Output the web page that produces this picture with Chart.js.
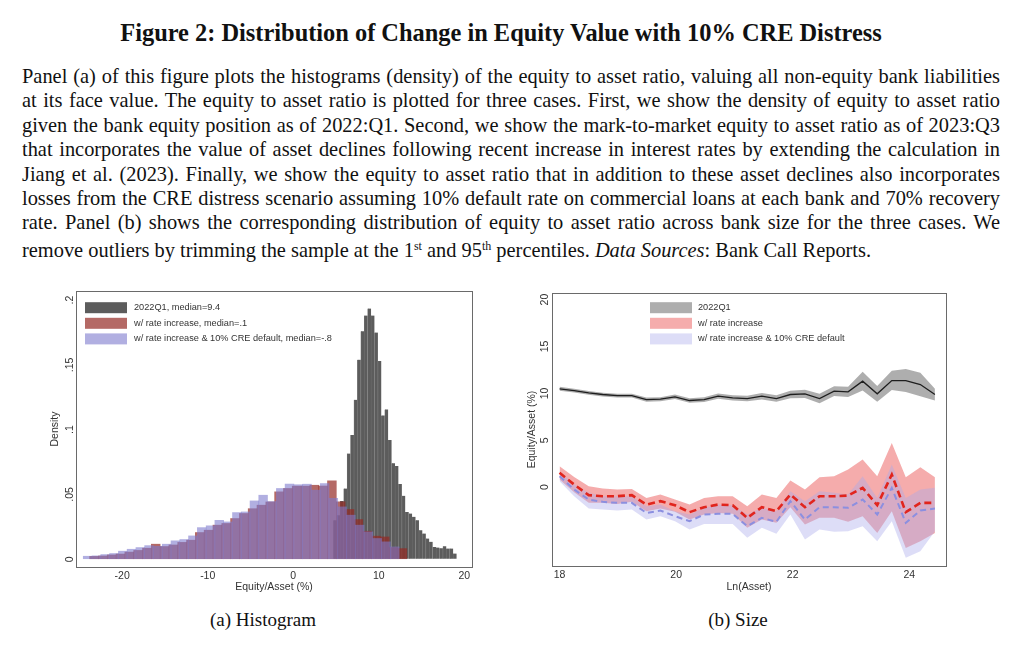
<!DOCTYPE html>
<html>
<head>
<meta charset="utf-8">
<script src="https://cdn.jsdelivr.net/npm/chart.js@4.4.0/dist/chart.umd.min.js"></script>
<style>
  body { margin: 0; background: #fff; width: 1024px; height: 667px; overflow: hidden; position: relative;
         font-family: "Liberation Serif", "Times New Roman", serif; color: #111; }
  .title { position: absolute; left: 0; width: 1002px; top: 19px; text-align: center;
           font-weight: bold; font-size: 24.4px; line-height: 28px; }
  .para { position: absolute; left: 22px; top: 64px; width: 978px; font-size: 20.4px; }
  .para div { height: 24.4px; line-height: 24.4px; white-space: nowrap; text-align: left; }
  .para.fit div { text-align: justify; text-align-last: justify; }
  .para.fit div.last { text-align-last: left; }
  .para div.last { margin-top: 3px; }
  sup { font-size: 12px; line-height: 0; vertical-align: 7px; }
  .cap { position: absolute; top: 608px; width: 240px; font-size: 19px; line-height: 24px; text-align: center; }
  .chart { position: absolute; top: 280px; }
</style>
</head>
<body>
<div class="title">Figure 2: Distribution of Change in Equity Value with 10% CRE Distress</div>
<div class="para" id="para">
  <div><span>Panel (a) of this figure plots the histograms (density) of the equity to asset ratio, valuing all non-equity bank liabilities</span></div>
  <div><span>at its face value. The equity to asset ratio is plotted for three cases. First, we show the density of equity to asset ratio</span></div>
  <div><span>given the bank equity position as of 2022:Q1. Second, we show the mark-to-market equity to asset ratio as of 2023:Q3</span></div>
  <div><span>that incorporates the value of asset declines following recent increase in interest rates by extending the calculation in</span></div>
  <div><span>Jiang et al. (2023). Finally, we show the equity to asset ratio that in addition to these asset declines also incorporates</span></div>
  <div><span>losses from the CRE distress scenario assuming 10% default rate on commercial loans at each bank and 70% recovery</span></div>
  <div><span>rate. Panel (b) shows the corresponding distribution of equity to asset ratio across bank size for the three cases. We</span></div>
  <div class="last"><span>remove outliers by trimming the sample at the 1<sup>st</sup> and 95<sup>th</sup> percentiles. <i>Data Sources</i>: Bank Call Reports.</span></div>
</div>
<canvas id="hist" class="chart" width="450" height="320" style="left:30px"></canvas>
<canvas id="size" class="chart" width="450" height="320" style="left:515px"></canvas>
<div class="cap" style="left:143px">(a) Histogram</div>
<div class="cap" style="left:618px">(b) Size</div>

<script>
// ---- panel (a): histograms, bin centers and densities ----
const grayCenters = [4.9, 5.3, 5.7, 6.1, 6.5, 6.9, 7.3, 7.7, 8.1, 8.5, 8.9, 9.3, 9.7, 10.1, 10.5, 10.9, 11.3, 11.7,
  12.1, 12.5, 12.9, 13.3, 13.7, 14.1, 14.5, 14.9, 15.3, 15.7, 16.1, 16.5, 16.9, 17.3, 17.7, 18.1, 18.5, 18.9];
const grayDensity = [0.030, 0.034, 0.045, 0.0546, 0.0816, 0.0958, 0.123, 0.154, 0.176, 0.188, 0.1935, 0.188, 0.175,
  0.153, 0.111, 0.1156, 0.092, 0.074, 0.072, 0.058, 0.049, 0.0365, 0.0353, 0.0327, 0.030, 0.0224, 0.0198, 0.016,
  0.0134, 0.0095, 0.009, 0.0085, 0.010, 0.0082, 0.0082, 0.0044];

const rateCenters = [-23.29, -22.26, -21.23, -20.20, -19.17, -18.14, -17.11, -16.08, -15.05, -14.02, -12.99, -11.96,
  -10.93, -9.90, -8.87, -7.84, -6.81, -5.78, -4.75, -3.72, -2.69, -1.66, -0.63, 0.40, 1.43, 2.46, 3.49, 4.52,
  5.55, 6.58, 7.61, 8.64, 9.67, 10.70, 11.73, 12.76];
const rateDensity = [0.0022, 0.0025, 0.0033, 0.004, 0.0055, 0.0068, 0.0085, 0.0116, 0.0098, 0.011, 0.013, 0.0147,
  0.0206, 0.0224, 0.0263, 0.0276, 0.0314, 0.0353, 0.039, 0.0417, 0.0442, 0.052, 0.0546, 0.0564, 0.0564, 0.0571,
  0.0565, 0.0605, 0.0443, 0.0384, 0.0306, 0.0216, 0.0178, 0.0172, 0.009, 0.0082];

const creCenters = [-24.04, -23.01, -21.99, -20.96, -19.93, -18.91, -17.88, -16.86, -15.83, -14.80, -13.78, -12.75,
  -11.73, -10.70, -9.67, -8.65, -7.62, -6.59, -5.57, -4.54, -3.52, -2.49, -1.46, -0.44, 0.59, 1.61, 2.64, 3.67,
  4.69, 5.72, 6.74, 7.77, 8.80, 9.82, 10.85, 11.87];
const creDensity = [0.0023, 0.0026, 0.0036, 0.0044, 0.0062, 0.0077, 0.009, 0.0105, 0.0100, 0.0116, 0.0142, 0.0152,
  0.018, 0.0244, 0.0258, 0.030, 0.0288, 0.036, 0.0365, 0.045, 0.0494, 0.0445, 0.0546, 0.058, 0.0575, 0.0579,
  0.0533, 0.0584, 0.047, 0.0404, 0.034, 0.0263, 0.0211, 0.016, 0.0134, 0.0095];

const histLabels = ['2022Q1, median=9.4', 'w/ rate increase, median=.1', 'w/ rate increase & 10% CRE default, median=-.8'];
const histXTicks = [-20, -10, 0, 10, 20];
const histYTicks = [0, 0.05, 0.1, 0.15, 0.2];

// ---- panel (b): equity/asset by bank size, mean and band ----
const lnAsset = [18.0, 18.25, 18.5, 18.74, 18.99, 19.24, 19.49, 19.73, 19.98, 20.23, 20.48, 20.72, 20.97, 21.22,
  21.47, 21.72, 21.96, 22.21, 22.46, 22.71, 22.95, 23.2, 23.45, 23.7, 23.94, 24.19, 24.44];
const mean2022 = [10.48, 10.30, 10.05, 9.88, 9.77, 9.77, 9.34, 9.38, 9.63, 9.24, 9.34, 9.70, 9.52, 9.45, 9.70, 9.45,
  9.88, 9.95, 9.45, 10.23, 10.16, 11.30, 9.95, 11.37, 11.37, 10.94, 9.88];
const high2022 = [10.70, 10.50, 10.25, 10.08, 9.97, 9.97, 9.56, 9.60, 9.87, 9.48, 9.60, 9.98, 9.80, 9.75, 10.05, 9.80,
  10.28, 10.40, 9.95, 10.75, 10.70, 12.30, 10.80, 12.40, 12.60, 12.20, 10.50];
const low2022 = [10.28, 10.10, 9.85, 9.68, 9.57, 9.57, 9.12, 9.16, 9.39, 9.00, 9.08, 9.42, 9.24, 9.15, 9.35, 9.10,
  9.48, 9.50, 8.95, 9.71, 9.62, 10.30, 9.10, 10.35, 10.15, 9.70, 9.25];
const meanRate = [1.53, 0.28, -0.85, -0.96, -0.96, -0.85, -1.85, -1.49, -1.92, -2.66, -2.13, -1.85, -1.92, -3.27,
  -2.13, -2.56, -0.78, -2.13, -0.96, -0.96, -0.89, -0.07, -1.92, 1.35, -2.66, -1.67, -1.67];
const highRate = [2.24, 1.10, 0.11, -0.14, -0.25, -0.18, -1.14, -0.78, -1.31, -1.85, -1.14, -0.96, -0.96, -2.02,
  -0.78, -1.14, 0.71, -0.25, 1.07, 1.17, 1.88, 2.95, 1.17, 4.72, 1.07, 2.13, 1.07];
const lowRate = [0.82, -0.55, -1.67, -1.67, -1.78, -1.56, -2.56, -2.27, -2.63, -3.45, -2.91, -2.74, -2.84, -4.33,
  -3.45, -3.80, -2.13, -3.98, -3.27, -3.27, -3.69, -3.09, -4.87, -2.56, -6.47, -5.75, -4.87];
const meanCre = [1.17, -0.25, -1.31, -1.56, -1.67, -1.67, -2.74, -2.49, -3.09, -3.62, -2.91, -2.84, -2.84, -4.16,
  -3.27, -3.69, -1.49, -3.45, -2.13, -2.13, -2.20, -1.31, -2.91, -0.07, -3.80, -2.49, -2.27];
const highCre = [1.71, 0.28, -0.60, -0.96, -0.96, -0.96, -2.02, -1.85, -2.56, -2.91, -2.20, -1.85, -1.92, -2.91,
  -2.20, -2.56, -0.43, -1.49, -0.43, -0.60, -0.78, 1.17, -1.14, 2.42, -1.14, -0.25, -0.07];
const lowCre = [0.64, -0.96, -2.27, -2.38, -2.49, -2.38, -3.45, -3.09, -3.62, -4.51, -3.91, -3.91, -3.91, -5.40,
  -4.33, -4.97, -2.91, -5.58, -4.51, -4.76, -4.69, -4.16, -5.75, -3.62, -7.53, -6.82, -4.69];

const sizeLabels = ['2022Q1', 'w/ rate increase', 'w/ rate increase & 10% CRE default'];
const sizeXTicks = [18, 20, 22, 24];
const sizeYTicks = [0, 5, 10, 15, 20];

// squeeze word spacing on any paragraph line that would overflow, then justify
const para = document.getElementById('para');
para.querySelectorAll('div').forEach(div => {
  const span = div.querySelector('span');
  const w = span.getBoundingClientRect().width;
  if (w > 978) {
    const gaps = (span.textContent.match(/ /g) || []).length;
    div.style.wordSpacing = ((978 - w) / gaps - 0.05) + 'px';
  }
});
para.classList.add('fit');

Chart.defaults.font.family = '"Liberation Sans", Arial, sans-serif';
Chart.defaults.color = '#333';
Chart.defaults.animation = false;

// frame around the plot region plus a stata-style legend inside it
const frameLegend = {
  id: 'frameLegend',
  afterDraw(chart, args, opts) {
    const { ctx, chartArea: a } = chart;
    ctx.save();
    ctx.strokeStyle = '#6a6a6a';
    ctx.lineWidth = 1;
    ctx.strokeRect(Math.round(a.left) + 0.5, Math.round(a.top) + 0.5, Math.round(a.width), Math.round(a.height));
    ctx.font = '9.2px "Liberation Sans", Arial, sans-serif';
    ctx.textBaseline = 'middle';
    opts.labels.forEach((label, i) => {
      const y = a.top + opts.top + i * opts.step;
      ctx.fillStyle = opts.colors[i];
      ctx.fillRect(a.left + opts.left, y - 5.5, 42, 11);
      ctx.fillStyle = '#333';
      ctx.fillText(label, a.left + opts.textLeft, y);
    });
    ctx.restore();
  }
};

const pts = (xs, ys) => xs.map((x, i) => ({ x: x, y: ys[i] }));
const tickFont = { size: 10.5 };
// no tick marks, labels only (as in the original)
const gridOpts = { display: true, drawOnChartArea: false, drawTicks: false };

// colours
const cGray = '#5c5c5c';
const cRate = 'rgba(148,42,36,0.7)';
const cCre = 'rgba(125,122,205,0.6)';

const histX = { min: -25.4, max: 20.9 };

new Chart(document.getElementById('hist'), {
  type: 'bar',
  data: {
    datasets: [
      { label: histLabels[2], data: pts(creCenters, creDensity), backgroundColor: cCre, xAxisID: 'x', order: 0,
        barPercentage: 1, categoryPercentage: 1, grouped: false },
      { label: histLabels[1], data: pts(rateCenters, rateDensity), backgroundColor: cRate, xAxisID: 'xr', order: 1,
        barPercentage: 1, categoryPercentage: 1, grouped: false },
      { label: histLabels[0], data: pts(grayCenters, grayDensity), backgroundColor: cGray, xAxisID: 'xg', order: 2,
        borderColor: '#727272', borderWidth: { left: 0.6, right: 0, top: 0, bottom: 0 },
        barPercentage: 1, categoryPercentage: 1, grouped: false }
    ]
  },
  options: {
    responsive: false,
    layout: { padding: { left: 0, right: 8, top: 11, bottom: 0 } },
    plugins: {
      legend: { display: false },
      tooltip: { enabled: false },
      frameLegend: { labels: histLabels, colors: [cGray, cRate, cCre], left: 9, textLeft: 58, top: 16.7, step: 15.6 }
    },
    scales: {
      x: {
        type: 'linear', min: histX.min, max: histX.max, offset: false,
        afterFit: s => { s.height = 33; },
        afterBuildTicks: s => { s.ticks = histXTicks.map(v => ({ value: v })); },
        grid: gridOpts, border: { display: false },
        ticks: { font: tickFont, padding: 3, maxRotation: 0, autoSkip: false },
        title: { display: true, text: 'Equity/Asset (%)', font: { size: 10.5 }, padding: { top: 0, bottom: 7 } }
      },
      xr: { type: 'linear', display: false, min: histX.min, max: histX.max, offset: false },
      xg: { type: 'linear', display: false, min: histX.min, max: histX.max, offset: false },
      y: {
        min: -0.006, max: 0.207,
        afterFit: s => { s.width = 46; },
        afterBuildTicks: s => { s.ticks = histYTicks.map(v => ({ value: v })); },
        grid: gridOpts, border: { display: false },
        ticks: { font: tickFont, padding: -1, minRotation: 90, maxRotation: 90, crossAlign: 'center',
          callback: v => v === 0 ? '0' : String(v).replace(/^0/, '') },
        title: { display: true, text: 'Density', font: { size: 10.5 }, padding: { top: 19, bottom: 0 } }
      }
    }
  },
  plugins: [frameLegend]
});

// ---- panel (b) ----
const bGray = 'rgba(120,120,120,0.6)';
const bRate = 'rgba(235,90,90,0.5)';
const bCre = 'rgba(170,170,235,0.4)';
const edge = { pointRadius: 0, borderWidth: 0, tension: 0 };

new Chart(document.getElementById('size'), {
  type: 'line',
  data: {
    datasets: [
      { data: pts(lnAsset, mean2022), borderColor: '#1e1e1e', borderWidth: 1.3, pointRadius: 0, order: 0 },
      { data: pts(lnAsset, meanRate), borderColor: '#e1251d', borderWidth: 2.6, borderDash: [7, 4], pointRadius: 0, order: 0 },
      { data: pts(lnAsset, meanCre), borderColor: '#8b8fe0', borderWidth: 2, borderDash: [6, 4], pointRadius: 0, order: 0 },
      { data: pts(lnAsset, high2022), ...edge, fill: false, order: 3 },
      { data: pts(lnAsset, low2022), ...edge, fill: '-1', backgroundColor: bGray, order: 3 },
      { data: pts(lnAsset, highRate), ...edge, fill: false, order: 2 },
      { data: pts(lnAsset, lowRate), ...edge, fill: '-1', backgroundColor: bRate, order: 2 },
      { data: pts(lnAsset, highCre), ...edge, fill: false, order: 1 },
      { data: pts(lnAsset, lowCre), ...edge, fill: '-1', backgroundColor: bCre, order: 1 }
    ]
  },
  options: {
    responsive: false,
    layout: { padding: { left: 0, right: 19, top: 13, bottom: 0 } },
    plugins: {
      legend: { display: false },
      tooltip: { enabled: false },
      frameLegend: { labels: sizeLabels, colors: [bGray, bRate, bCre], left: 98, textLeft: 146, top: 14.7, step: 15.6 }
    },
    scales: {
      x: {
        type: 'linear', min: 17.87, max: 24.63,
        afterFit: s => { s.height = 34; },
        afterBuildTicks: s => { s.ticks = sizeXTicks.map(v => ({ value: v })); },
        grid: gridOpts, border: { display: false },
        ticks: { font: tickFont, padding: 3, maxRotation: 0, autoSkip: false },
        title: { display: true, text: 'Ln(Asset)', font: { size: 10.5 }, padding: { top: 0, bottom: 7 } }
      },
      y: {
        min: -8.4, max: 20.7,
        afterFit: s => { s.width = 37; },
        afterBuildTicks: s => { s.ticks = sizeYTicks.map(v => ({ value: v })); },
        grid: gridOpts, border: { display: false },
        ticks: { font: tickFont, padding: 1, minRotation: 90, maxRotation: 90, crossAlign: 'center' },
        title: { display: true, text: 'Equity/Asset (%)', font: { size: 10.5 }, padding: { top: 11, bottom: 0 } }
      }
    }
  },
  plugins: [frameLegend]
});
</script>
</body>
</html>
